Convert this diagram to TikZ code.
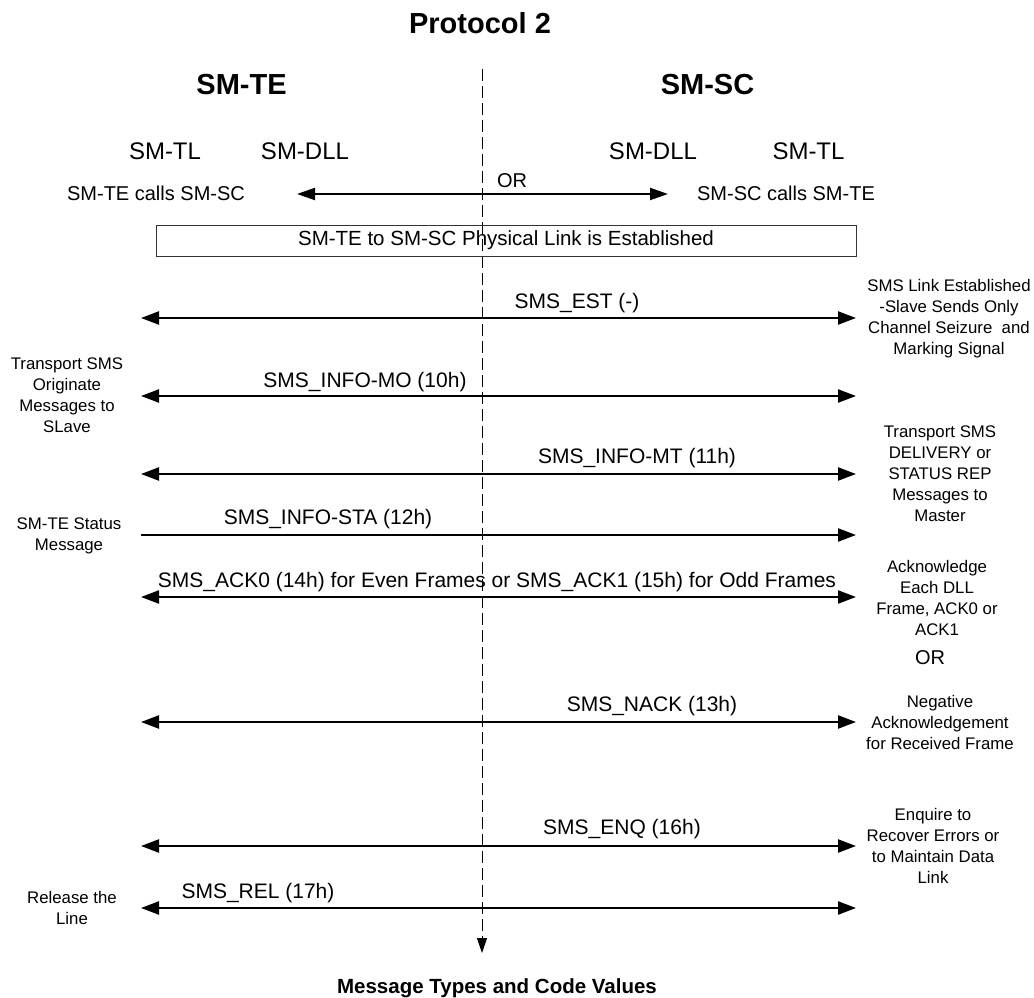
\documentclass[tikz,border=0pt]{standalone}
\usepackage{fontspec}
\setmainfont{Liberation Sans}
\usetikzlibrary{arrows.meta}
\tikzset{
  lbl/.style={inner sep=0pt, align=center},
  msg/.style={lbl, font=\fontsize{21}{25}\selectfont},
  note/.style={lbl, font=\fontsize{16.8}{21}\selectfont},
  layer/.style={lbl, font=\fontsize{24}{28}\selectfont},
  calls/.style={lbl, font=\fontsize{20}{24}\selectfont},
  big/.style={lbl, font=\fontsize{29}{34}\selectfont\bfseries},
  tiphead/.tip={Triangle[length=18pt,width=13pt]},
  sig/.style={line width=2.3pt, tiphead-tiphead},
  sigone/.style={line width=2.3pt, -tiphead},
  axis/.style={line width=1pt, dash pattern=on 12pt off 5pt, -{Triangle[length=15pt,width=10pt]}},
  linkbox/.style={draw=black!80, line width=1pt, minimum width=700pt, minimum height=31pt, inner sep=0pt, font=\fontsize{20.5}{24}\selectfont}
}
\begin{document}
\begin{tikzpicture}[x=1pt,y=-1pt]
\useasboundingbox (0,0) rectangle (1034,998);

% titles
\node[big] (title) at (480,23) {Protocol 2};
\node[big] (te) at (241.6,84.5) {SM-TE};
\node[big] (sc) at (707.5,84.5) {SM-SC};
\node[layer] (tl1) at (165,151) {SM-TL};
\node[layer] (dll1) at (305,151) {SM-DLL};
\node[layer] (dll2) at (653,151) {SM-DLL};
\node[layer] (tl2) at (808.5,151) {SM-TL};

% dashed axis
\coordinate (axtop) at (482,69);
\coordinate (axbot) at (482,953);
\draw[axis] (axtop) -- (axbot);

% calls
\node[calls] (tecalls) at (156,193) {SM-TE calls SM-SC};
\node[calls] (sccalls) at (786,193) {SM-SC calls SM-TE};
\node[calls] (or1) at (512,181) {OR};
\coordinate (orL) at (297,194);
\coordinate (orR) at (668,194);
\draw[line width=2pt, {Triangle[length=18pt,width=12pt]}-{Triangle[length=18pt,width=12pt]}] (orL) -- (orR);

% box
\node[linkbox] (link) at (506,240.5) {SM-TE to SM-SC Physical Link is Established};

% signal end points
\coordinate (estL) at (141,318);  \coordinate (estR) at (856,318);
\coordinate (moL) at (141,396);   \coordinate (moR) at (856,396);
\coordinate (mtL) at (141,474);   \coordinate (mtR) at (856,474);
\coordinate (staL) at (141,535);  \coordinate (staR) at (856,535);
\coordinate (ackL) at (141,597);  \coordinate (ackR) at (856,597);
\coordinate (nackL) at (141,722); \coordinate (nackR) at (856,722);
\coordinate (enqL) at (141,846);  \coordinate (enqR) at (856,846);
\coordinate (relL) at (141,908);  \coordinate (relR) at (856,908);

\draw[sig] (estL) -- (estR);
\draw[sig] (moL) -- (moR);
\draw[sig] (mtL) -- (mtR);
\draw[sigone] (staL) -- (staR);
\draw[sig] (ackL) -- (ackR);
\draw[sig] (nackL) -- (nackR);
\draw[sig] (enqL) -- (enqR);
\draw[sig] (relL) -- (relR);

% message labels
\node[msg] (mest) at (577,303.5) {SMS\_EST (-)};
\node[msg] (mmo) at (365,382.5) {SMS\_INFO-MO (10h)};
\node[msg] (mmt) at (637,458) {SMS\_INFO-MT (11h)};
\node[msg] (msta) at (328,519) {SMS\_INFO-STA (12h)};
\node[msg] (mack) at (497,582.5) {SMS\_ACK0 (14h) for Even Frames or SMS\_ACK1 (15h) for Odd Frames};
\node[msg] (mnack) at (652,706.5) {SMS\_NACK (13h)};
\node[msg] (menq) at (622,829.5) {SMS\_ENQ (16h)};
\node[msg] (mrel) at (258,893) {SMS\_REL (17h)};

% right notes
\node[note] (nest) at (949,318.5) {SMS Link Established\\-Slave Sends Only\\Channel Seizure\ \ and\\Marking Signal};
\node[note] (nmt) at (940,474) {Transport SMS\\DELIVERY or\\STATUS REP\\Messages to\\Master};
\node[note] (nack) at (937,598) {Acknowledge\\Each DLL\\Frame, ACK0 or\\ACK1};
\node[calls] (or2) at (930,658) {OR};
\node[note] (nnack) at (940,722) {Negative\\Acknowledgement\\for Received Frame};
\node[note] (nenq) at (933,846) {Enquire to\\Recover Errors or\\to Maintain Data\\Link};

% left notes
\node[note] (nmo) at (67,395.5) {Transport SMS\\Originate\\Messages to\\SLave};
\node[note] (nsta) at (69,536) {SM-TE Status\\Message};
\node[note] (nrel) at (72,908) {Release the\\Line};

% bottom caption
\node[lbl, font=\fontsize{20.5}{24}\selectfont\bfseries] (caption) at (497,988.5) {Message Types and Code Values};
\end{tikzpicture}
\end{document}
